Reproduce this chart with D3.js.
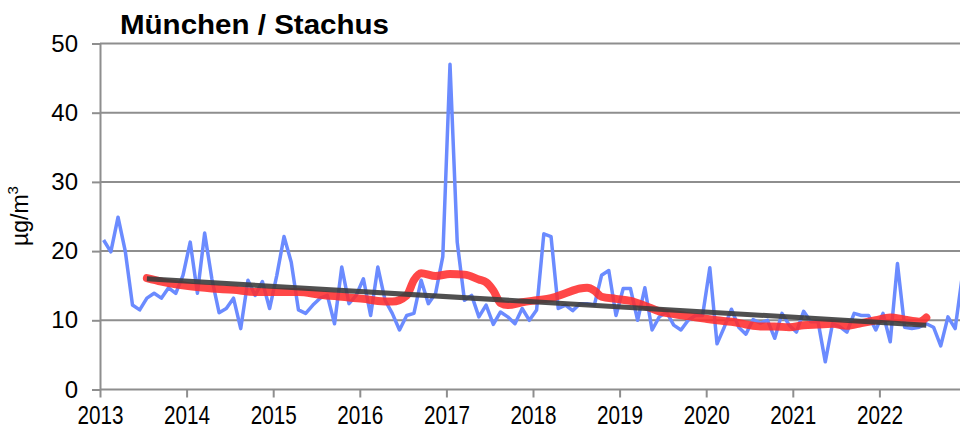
<!DOCTYPE html>
<html>
<head>
<meta charset="utf-8">
<script src="https://cdn.jsdelivr.net/npm/d3@7"></script>
<style>
  body { margin: 0; background: #fff; }
  svg { display: block; font-family: "Liberation Sans", Arial, sans-serif; }
</style>
</head>
<body>
<svg id="chart" width="960" height="439"></svg>
<script>
const title = "München / Stachus"
const yearTicks = [2013, 2014, 2015, 2016, 2017, 2018, 2019, 2020, 2021, 2022]
const yTicks = [0, 10, 20, 30, 40, 50]

// monthly means, Jan 2013 .. Dec 2022
const monthly = [
  21.6, 19.9, 24.9, 20.0, 12.2, 11.5, 13.2, 13.9, 13.2, 14.7, 13.9, 16.5,
  21.3, 13.9, 22.6, 16.0, 11.1, 11.7, 13.2, 8.8, 15.8, 13.6, 15.6, 11.7,
  16.5, 22.1, 18.4, 11.5, 11.0, 12.2, 13.2, 13.6, 9.5, 17.7, 12.4, 13.6,
  16.0, 10.7, 17.7, 12.9, 11.0, 8.6, 10.7, 11.0, 15.8, 12.4, 13.9, 19.2,
  47.0, 21.3, 12.9, 13.6, 10.5, 12.2, 9.4, 11.2, 10.5, 9.5, 11.7, 10.0,
  11.5, 22.5, 22.1, 11.7, 12.2, 11.4, 12.4, 12.4, 12.2, 16.5, 17.2, 10.7,
  14.6, 14.6, 10.0, 14.7, 8.6, 10.5, 11.2, 9.3, 8.6, 10.0, 10.7, 10.7,
  17.6, 6.6, 9.0, 11.6, 9.0, 8.0, 10.1, 9.6, 10.0, 7.4, 11.0, 9.3,
  8.3, 11.3, 9.8, 9.8, 4.0, 9.5, 9.1, 8.3, 11.0, 10.7, 10.7, 8.6,
  11.0, 6.9, 18.2, 9.0, 8.8, 9.0, 9.5, 9.0, 6.3, 10.5, 8.8, 16.5
]

// 12-month running mean, month index -> value
const runMonths = [6, 8, 10, 12, 15, 18, 21, 24, 27, 30, 33, 36, 38, 40, 42, 43, 44, 46, 48, 50,
  52, 53, 54, 55, 56, 58, 60, 62, 64, 66, 67, 68, 69, 71, 73, 75, 77, 79, 81, 83,
  85, 87, 89, 91, 93, 95, 97, 99, 101, 103, 105, 107, 109, 111, 113, 114]
const runValues = [16.1, 15.6, 15.2, 14.9, 14.6, 14.4, 14.1, 14.1, 14.1, 13.7, 13.4, 13.1, 12.8, 12.7, 13.6, 15.8, 16.8, 16.4, 16.7, 16.6,
  15.9, 15.5, 14.3, 12.5, 12.2, 12.6, 12.9, 13.2, 13.9, 14.6, 14.7, 14.3, 13.4, 13.1, 12.8, 12.1, 11.3, 10.9, 10.6, 10.3,
  10.0, 9.8, 9.4, 9.1, 9.1, 9.0, 9.3, 9.4, 9.5, 9.2, 9.6, 10.0, 10.4, 10.1, 9.8, 10.4]

// linear trend, start and end
const trendMonths = [6, 114]
const trendValues = [16.0, 9.3]

const svg = d3.select("#chart")
const x = d3.scaleLinear().domain([2013, 2023]).range([100, 966])
const y = d3.scaleLinear().domain([0, 50]).range([389.5, 43.5])
const mx = i => x(2013 + (i + 0.5) / 12)
const grey = "#8e8e8e"

// grid
svg.append("g").selectAll("line")
  .data(yTicks.filter(d => d > 0))
  .join("line")
    .attr("x1", 100).attr("x2", 960)
    .attr("y1", d => y(d)).attr("y2", d => y(d))
    .attr("stroke", grey).attr("stroke-width", 2)

const yAxis = svg.append("g")
  .attr("transform", "translate(100,0)")
  .call(d3.axisLeft(y).tickValues(yTicks).tickSize(8).tickSizeOuter(0).tickPadding(14))
yAxis.select(".domain").attr("stroke", grey).attr("stroke-width", 2)
yAxis.selectAll(".tick line").attr("stroke", grey).attr("stroke-width", 2)
yAxis.selectAll("text").attr("font-size", 24).attr("fill", "#000")
  .attr("font-family", "Liberation Sans, Arial, sans-serif")

const xAxis = svg.append("g")
  .attr("transform", `translate(0,${y(0)})`)
  .call(d3.axisBottom(x).tickValues(yearTicks).tickFormat(d3.format("d")).tickSize(8).tickSizeOuter(0).tickPadding(8))
xAxis.select(".domain").attr("d", `M100,0H960`).attr("stroke", grey).attr("stroke-width", 2)
xAxis.selectAll(".tick line").attr("stroke", grey).attr("stroke-width", 2)
xAxis.selectAll("text").attr("font-size", 26).attr("fill", "#000")
  .attr("font-family", "Liberation Sans, Arial, sans-serif")
  .attr("textLength", 46).attr("lengthAdjust", "spacingAndGlyphs")

// series
const plot = svg.append("g")
svg.append("clipPath").attr("id", "clip")
  .append("rect").attr("x", 100).attr("y", 0).attr("width", 860).attr("height", 439)
plot.attr("clip-path", "url(#clip)")

const line = d3.line().x(d => mx(d[0])).y(d => y(d[1]))

plot.append("path")
  .attr("d", line(monthly.map((v, i) => [i, v])))
  .attr("fill", "none").attr("stroke", "#6b8bff").attr("stroke-width", 3.5)
  .attr("stroke-linejoin", "round")

plot.append("path")
  .attr("d", d3.line().curve(d3.curveMonotoneX).x(d => mx(d[0])).y(d => y(d[1]))(runMonths.map((m, i) => [m, runValues[i]])))
  .attr("fill", "none").attr("stroke", "#ff2e2e").attr("stroke-opacity", 0.88)
  .attr("stroke-width", 8).attr("stroke-linecap", "round").attr("stroke-linejoin", "round")

plot.append("path")
  .attr("d", line(trendMonths.map((m, i) => [m, trendValues[i]])))
  .attr("fill", "none").attr("stroke", "#3d3d3d").attr("stroke-opacity", 0.9)
  .attr("stroke-width", 5)

// labels
svg.append("text")
  .attr("x", 120).attr("y", 34)
  .attr("font-size", 28).attr("font-weight", "bold")
  .attr("textLength", 269).attr("lengthAdjust", "spacingAndGlyphs")
  .text(title)

const yl = svg.append("text")
  .attr("transform", "translate(28,216) rotate(-90)")
  .attr("text-anchor", "middle")
  .attr("font-size", 23)
yl.append("tspan").text("µg/m")
yl.append("tspan").attr("font-size", 15).attr("dy", -10).text("3")
</script>
</body>
</html>
